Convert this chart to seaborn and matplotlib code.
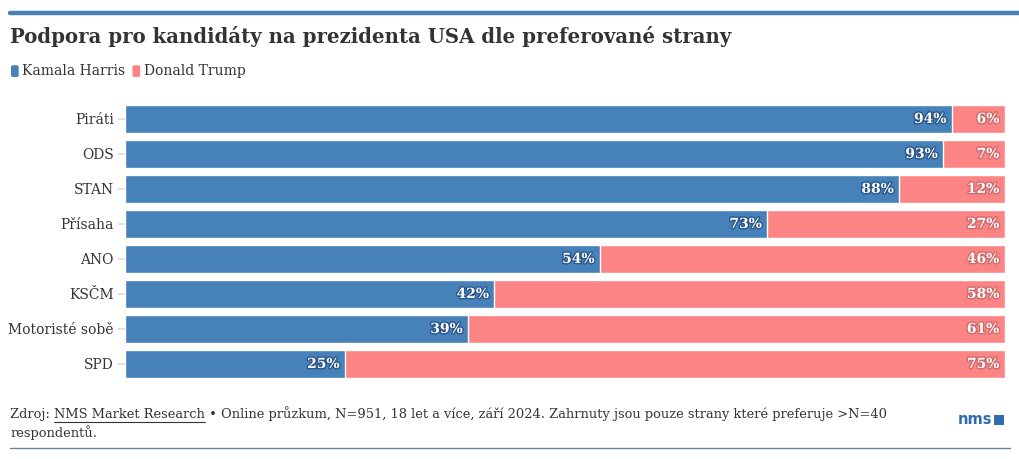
import matplotlib
matplotlib.use("Agg")
import matplotlib.pyplot as plt
import matplotlib.patheffects as pe
from matplotlib.patches import FancyBboxPatch
import seaborn as sns
import pandas as pd

parties = ["Piráti", "ODS", "STAN", "Přísaha", "ANO", "KSČM", "Motoristé sobě", "SPD"]
harris = [94, 93, 88, 73, 54, 42, 39, 25]
trump = [6, 7, 12, 27, 46, 58, 61, 75]
series = ["Kamala Harris", "Donald Trump"]

BLUE = "#4682b9"
RED = "#fd8484"
TXT = "#333333"

sns.set_theme(style="white")
plt.rcParams["font.family"] = ["DejaVu Serif", "DejaVu Sans"]

df = pd.DataFrame({"party": parties, "harris": harris, "trump": trump})
df["total"] = df["harris"] + df["trump"]

fig = plt.figure(figsize=(10.2, 4.59), dpi=100)
ax = fig.add_axes([0.1225, 0.169, 0.8625, 0.61])

sns.barplot(data=df, y="party", x="total", color=RED, orient="h", width=0.8,
            edgecolor="white", linewidth=1, saturation=1, ax=ax)
sns.barplot(data=df, y="party", x="harris", color=BLUE, orient="h", width=0.8,
            edgecolor="white", linewidth=1, saturation=1, ax=ax)

ax.set_xlim(0, 100)
ax.set_ylim(len(parties) - 0.5, -0.5)
ax.set_xlabel("")
ax.set_ylabel("")
ax.set_xticks([])
for s in ax.spines.values():
    s.set_visible(False)
ax.tick_params(axis="y", length=5, color="#dddddd", labelsize=10, labelcolor=TXT, pad=3, left=True)

stroke = [pe.withStroke(linewidth=2.0, foreground="#2a5688")]
stroke_r = [pe.withStroke(linewidth=2.0, foreground="#d06a6a")]
for i, (h, t) in enumerate(zip(harris, trump)):
    ax.text(h - 0.6, i, f"{h}%", ha="right", va="center", color="white",
            fontsize=10, fontweight="bold", path_effects=stroke)
    ax.text(h + t - 0.6, i, f"{t}%", ha="right", va="center", color="white",
            fontsize=10, fontweight="bold", path_effects=stroke_r)

# top and bottom rules
fig.add_artist(plt.Line2D([0.0098, 1.0], [0.972, 0.972], color="#4a7fb5", linewidth=3.2))
fig.add_artist(plt.Line2D([0.0098, 0.99], [0.025, 0.025], color="#6b85a0", linewidth=1))

fig.text(0.0098, 0.92, "Podpora pro kandidáty na prezidenta USA dle preferované strany",
         fontsize=14.2, fontweight="bold", color=TXT, va="center", ha="left")

# legend
x = 0.0098
for name, col in zip(series, [BLUE, RED]):
    fig.add_artist(FancyBboxPatch((x + 0.001, 0.832), 0.0075, 0.026,
                                  boxstyle="round,pad=0.0,rounding_size=0.003",
                                  transform=fig.transFigure, facecolor=col, edgecolor="none"))
    t = fig.text(x + 0.012, 0.845, name, fontsize=10, color=TXT, va="center", ha="left")
    fig.canvas.draw()
    bb = t.get_window_extent()
    x = bb.x1 / fig.bbox.width + 0.006

# footer
FS = 9.4
t0 = fig.text(0.0098, 0.098, "Zdroj: ", fontsize=FS, color=TXT, va="center", ha="left")
fig.text(0.0098, 0.058, "respondentů.", fontsize=FS, color=TXT, va="center", ha="left")
fig.canvas.draw()
x0 = t0.get_window_extent().x1 / fig.bbox.width
t1 = fig.text(x0, 0.098, "NMS Market Research", fontsize=FS, color=TXT, va="center", ha="left")
fig.canvas.draw()
bb = t1.get_window_extent()
fig.add_artist(plt.Line2D([bb.x0 / fig.bbox.width, bb.x1 / fig.bbox.width],
                          [0.080, 0.080], color=TXT, linewidth=0.8))
fig.text(bb.x1 / fig.bbox.width, 0.098,
         " • Online průzkum, N=951, 18 let a více, září 2024. Zahrnuty jsou pouze strany které preferuje >N=40",
         fontsize=FS, color=TXT, va="center", ha="left")

fig.text(0.973, 0.085, "nms", fontsize=10.5, fontweight="bold", color="#2e6bb0",
         va="center", ha="right", family="DejaVu Sans")
fig.add_artist(plt.Rectangle((0.975, 0.075), 0.0095, 0.021, transform=fig.transFigure,
                             facecolor="#2e6bb0", edgecolor="none"))

fig.savefig("out.png", dpi=100, facecolor="white")
